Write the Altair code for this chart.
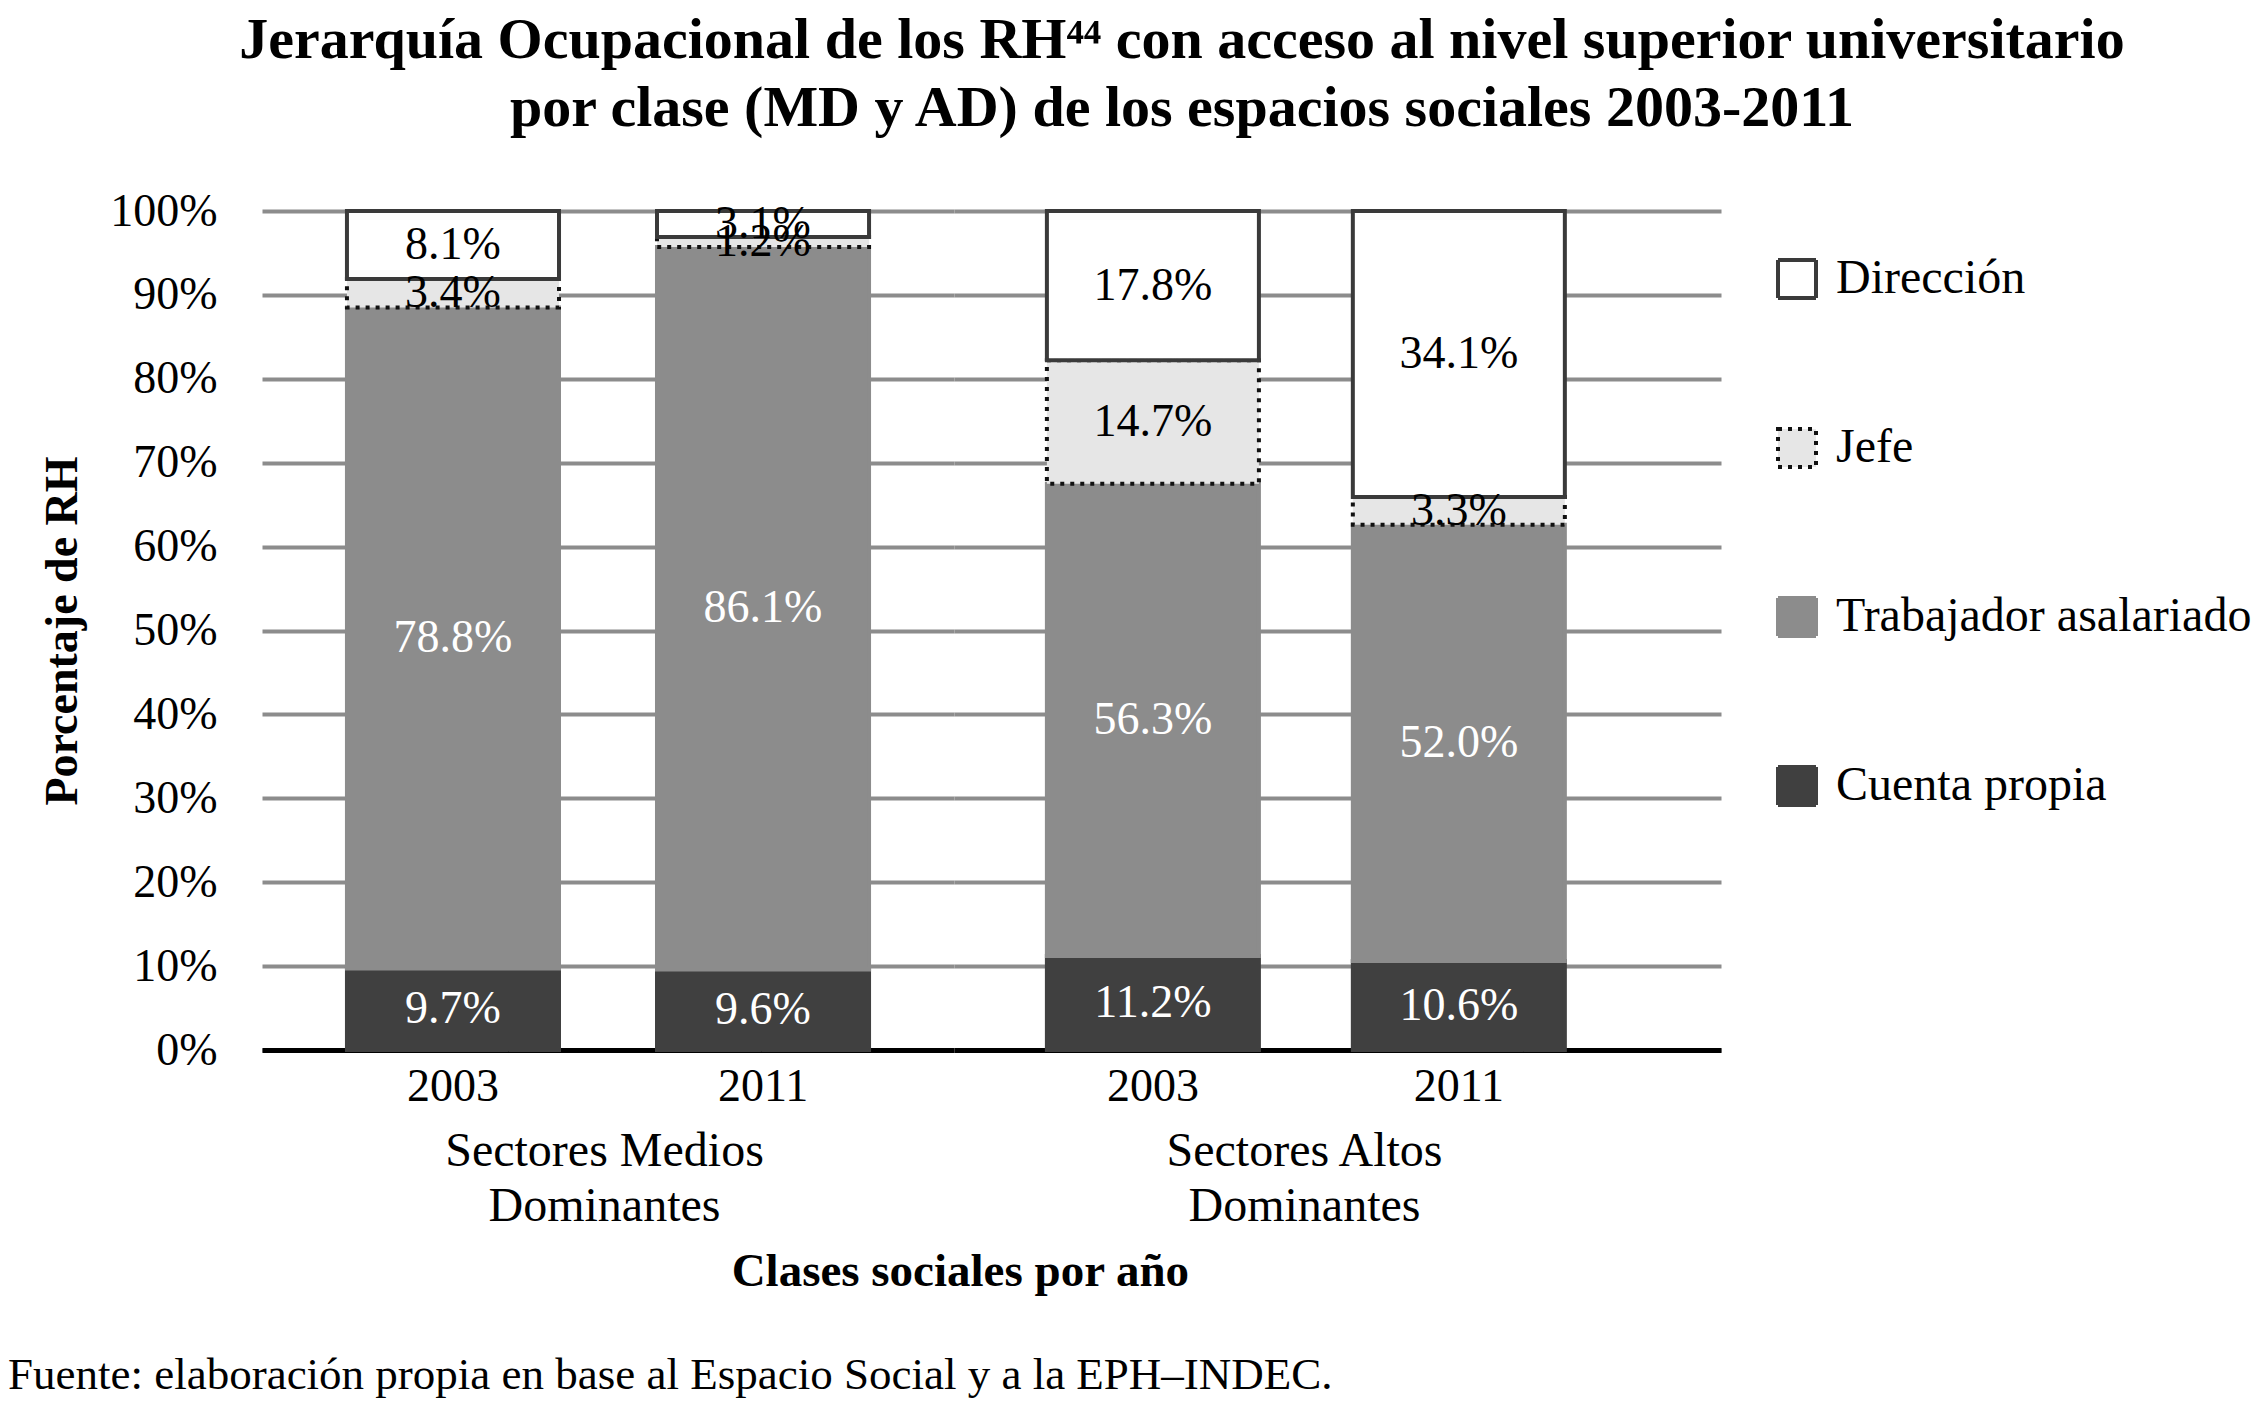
import altair as alt
import pandas as pd

FONT = "Liberation Serif"

# ---------------- data ----------------
grupos = ["MD", "AD"]
grupo_titulos = {"MD": ["Sectores Medios", "Dominantes"], "AD": ["Sectores Altos", "Dominantes"]}
anios = ["2003", "2011"]
bar_grupo = ["MD", "MD", "AD", "AD"]
bar_anio = ["2003", "2011", "2003", "2011"]

# legend order (top to bottom)
categorias = ["Dirección", "Jefe", "Trabajador asalariado", "Cuenta propia"]
# stacking order (bottom to top)
orden_pila = ["Cuenta propia", "Trabajador asalariado", "Jefe", "Dirección"]

cuenta_propia = [9.7, 9.6, 11.2, 10.6]
trabajador = [78.8, 86.1, 56.3, 52.0]
jefe = [3.4, 1.2, 14.7, 3.3]
direccion = [8.1, 3.1, 17.8, 34.1]

y_ticks = [0, 10, 20, 30, 40, 50, 60, 70, 80, 90, 100]

titulo = ["Jerarquía Ocupacional de los RH⁴⁴ con acceso al nivel superior universitario",
          "por clase (MD y AD) de los espacios sociales 2003-2011"]
fuente = "Fuente: elaboración propia en base al Espacio Social y a la EPH–INDEC."

series = {"Cuenta propia": cuenta_propia, "Trabajador asalariado": trabajador,
          "Jefe": jefe, "Dirección": direccion}
rows = []
for i in range(len(bar_grupo)):
    for k, cat in enumerate(orden_pila):
        rows.append({"grupo": bar_grupo[i], "anio": bar_anio[i], "cat": cat,
                     "ord": k, "valor": series[cat][i]})
df = pd.DataFrame(rows)

fill_scale = alt.Scale(domain=categorias, range=["#ffffff", "#e6e6e6", "#8c8c8c", "#404040"])
stroke_scale = alt.Scale(domain=categorias, range=["#3a3a3a", "#111111", "#8c8c8c", "#404040"])
dash_scale = alt.Scale(domain=categorias, range=[[1, 0], [4, 6], [1, 0], [1, 0]])

leg = alt.Legend(title=" ", titleFontSize=20, titlePadding=24, orient="right", offset=52,
                 padding=0, symbolType="square", symbolSize=1444, symbolStrokeWidth=4,
                 labelFont=FONT, labelFontSize=48, labelColor="black", labelLimit=600,
                 labelOffset=15, rowPadding=115)


def panel(g, width, p_inner, p_outer, align, show_y, title_x):
    if show_y:
        yaxis = alt.Axis(values=y_ticks, labelExpr="datum.value + '%'", title="Porcentaje de RH",
                         titleFontWeight="bold", ticks=False, tickSize=0, domain=False,
                         labelPadding=45, titlePadding=23, grid=True)
    else:
        yaxis = alt.Axis(values=y_ticks, labels=False, title=None, ticks=False, tickSize=0,
                         domain=False, grid=True, labelPadding=0)
    yscale = alt.Scale(domain=[0, 100], nice=False)
    base = alt.Chart(df).transform_filter(alt.datum.grupo == g)
    bars = base.mark_bar(strokeWidth=4).encode(
        y=alt.Y("valor:Q", stack="zero", scale=yscale, axis=yaxis),
        fill=alt.Fill("cat:N", scale=fill_scale, legend=leg),
        stroke=alt.Stroke("cat:N", scale=stroke_scale, legend=leg),
        strokeDash=alt.StrokeDash("cat:N", scale=dash_scale, legend=leg),
        order=alt.Order("ord:Q", sort="ascending"),
    )
    text = base.transform_window(
        cum="sum(valor)", groupby=["anio"], sort=[alt.SortField("ord")], frame=[None, 0]
    ).transform_calculate(
        mid="datum.cum - datum.valor / 2",
        lab="format(datum.valor, '.1f') + '%'",
    ).mark_text(font=FONT, fontSize=46, baseline="middle").encode(
        y=alt.Y("mid:Q", scale=yscale, axis=yaxis),
        text="lab:N",
        color=alt.condition("datum.cat == 'Trabajador asalariado' || datum.cat == 'Cuenta propia'",
                            alt.value("#ffffff"), alt.value("#000000")),
    )
    x = alt.X("anio:N", sort=anios,
              scale=alt.Scale(paddingInner=p_inner, paddingOuter=p_outer, align=align),
              axis=alt.Axis(title=grupo_titulos[g], labelAngle=0, ticks=False, domain=True,
                            domainColor="#000000", domainWidth=5, labelPadding=14,
                            titlePadding=18, titleFontWeight="normal", titleLineHeight=55,
                            titleFontSize=48, titleX=title_x))
    return alt.layer(bars, text).encode(x=x).properties(width=width, height=839)


p1 = panel("MD", 692, 0.316, 0.274, 0.5, True, 342)
p2 = panel("AD", 767, 0.307, 0.407, 0.373, False, 350)

hc = alt.hconcat(p1, p2, spacing=0).properties(
    title=alt.TitleParams("Clases sociales por año", orient="bottom", anchor="middle",
                          font=FONT, fontSize=47, fontWeight="bold", color="black",
                          offset=19, dx=80)
)

foot = alt.Chart(pd.DataFrame({"t": [fuente]})).mark_text(
    align="left", baseline="middle", font=FONT, fontSize=45, color="black", dx=-254
).encode(x=alt.value(0), y=alt.value(14), text="t:N").properties(width=10, height=28)

chart = alt.vconcat(hc, foot, spacing=58).properties(
    title=alt.TitleParams(titulo, anchor="middle", font=FONT, fontSize=58, fontWeight="bold",
                          color="black", lineHeight=68, offset=50, dx=52),
    padding={"left": 0, "top": 4, "right": 0, "bottom": 0},
).configure_view(stroke=None).configure_axis(
    labelFont=FONT, labelFontSize=46, labelColor="black", titleFont=FONT, titleFontSize=46,
    titleColor="black", gridColor="#8c8c8c", gridWidth=4
)

chart.save("out.html", embed_options={"renderer": "svg", "actions": False})
